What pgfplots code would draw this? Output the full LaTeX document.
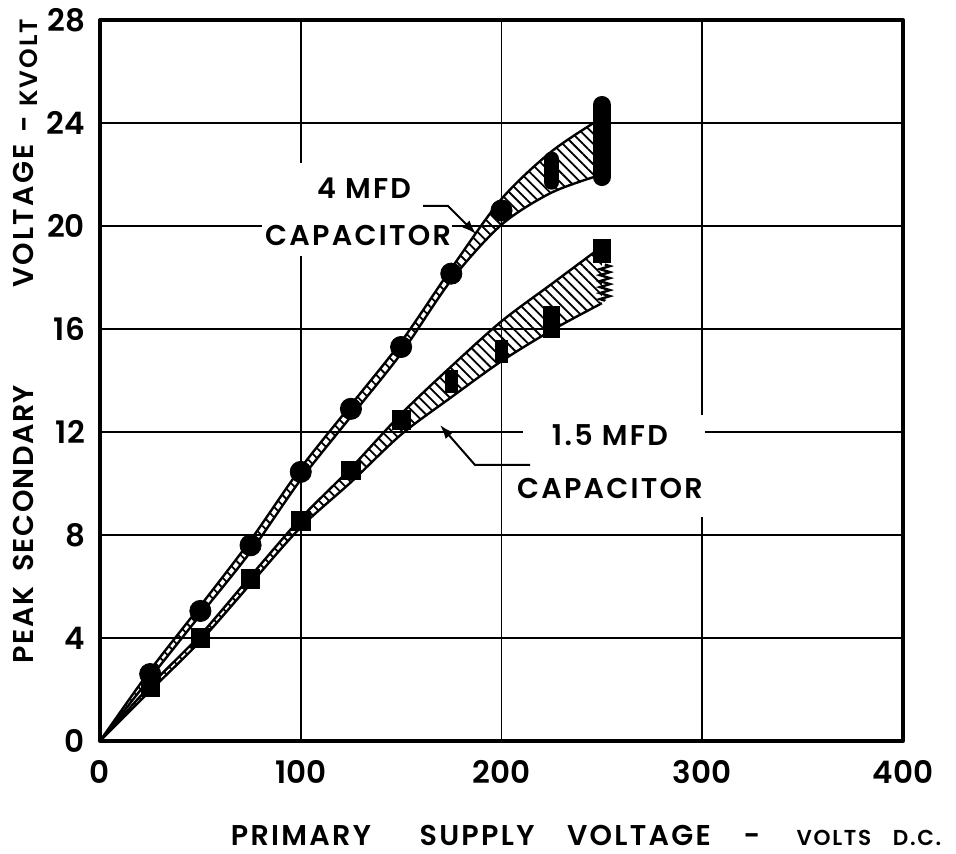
\documentclass[border=0pt]{standalone}
\usepackage{fontspec}
\setmainfont{Poppins}
\newfontfamily\lett{Poppins SemiBold}[LetterSpace=8]
\newfontfamily\lettn{Poppins SemiBold}[LetterSpace=5]
\newfontfamily\lettnum{Poppins SemiBold}
\usepackage{pgfplots}
\pgfplotsset{compat=1.18}
\usepgfplotslibrary{fillbetween}
\usetikzlibrary{calc,patterns.meta,arrows.meta,decorations.pathmorphing}

\newcommand{\lab}{\lett\fontsize{14.3}{15}\selectfont}
\newcommand{\labn}{\lettn\fontsize{14.3}{15}\selectfont}
\newcommand{\labsm}{\lett\fontsize{10.8}{12}\selectfont}

\begin{document}
\begin{tikzpicture}
\begin{axis}[
  set layers,
  scale only axis, width=401.5pt, height=360.5pt,
  xmin=0, xmax=400, ymin=0, ymax=28,
  xtick={0,100,200,300,400}, ytick={0,4,...,28},
  major tick length=0pt,
  grid=major,
  major grid style={black, line width=0.9pt},
  axis line style={line width=2pt, line join=round},
  clip=false,
  /pgf/number format/assume math mode=true,
  ticklabel style={font=\lettnum\fontsize{15.5}{16}\selectfont},
  xticklabel style={yshift=-6pt},
  yticklabel style={xshift=-4pt},
]
% blank the grid behind the curve labels
\fill[white] (axis cs:80.7,18.83) rectangle (axis cs:175.3,22.45);
\fill[white] (axis cs:210.7,8.70) rectangle (axis cs:301.5,12.66);

% 4 MFD capacitor: spread of readings
\addplot[name path=u4, smooth, line width=1.2pt] coordinates {
  (0,0) (25,2.75) (50,5.25) (75,7.8) (100,10.6) (125,13.05) (150,15.5)
  (175,18.35) (200,21.05) (225,22.9) (250,24.2)};
\addplot[name path=l4, smooth, line width=1.2pt] coordinates {
  (0,0) (25,2.45) (50,4.9) (75,7.35) (100,10.15) (125,12.6) (150,15.05)
  (175,17.9) (200,20.05) (225,21.3) (250,22.0)};
\addplot[draw=none, pattern={Lines[angle=-45,distance=3.6pt,line width=0.9pt]}]
  fill between[of=u4 and l4];

% 1.5 MFD capacitor: spread of readings
\addplot[name path=u15, smooth, line width=1.2pt] coordinates {
  (0,0) (25,2.15) (50,4.12) (75,6.4) (100,8.65) (125,10.6) (150,12.7)
  (175,14.55) (200,16.3) (225,17.75) (250,19.2)};
\addplot[name path=l15, smooth, line width=1.2pt] coordinates {
  (0,0) (25,1.95) (50,3.88) (75,6.1) (100,8.3) (125,10.05) (150,11.9)
  (175,13.35) (200,14.75) (225,15.95) (250,17.0)};
\addplot[draw=none, pattern={Lines[angle=-45,distance=3.6pt,line width=0.9pt]}]
  fill between[of=u15 and l15];

% measured points, 4 MFD
\addplot[only marks, mark=*, mark size=5.3pt, black] coordinates {
  (25,2.6) (50,5.05) (75,7.6) (100,10.45) (125,12.9) (150,15.3) (175,18.15) (200,20.6)};
\addplot[line width=7.5pt, line cap=round] coordinates {(225,21.7) (225,22.6)};
\addplot[line width=9pt, line cap=round] coordinates {(250,21.9) (250,24.7)};

% measured points, 1.5 MFD
\addplot[only marks, mark=square*, mark size=4.6pt, black] coordinates {
  (25,2.1) (50,4.0) (75,6.3) (100,8.55) (125,10.52) (150,12.47)};
\addplot[line width=6.8pt, line cap=butt] coordinates {(175,13.5) (175,14.4)};
\addplot[line width=6.8pt, line cap=butt] coordinates {(200,14.67) (200,15.57)};
\addplot[line width=8.5pt, line cap=butt] coordinates {(225,15.66) (225,16.9)};
\addplot[line width=9pt, line cap=butt] coordinates {(250,18.56) (250,19.5)};
\addplot[line width=1.2pt, decorate, decoration={zigzag, segment length=3pt, amplitude=2.5pt}]
  coordinates {(251.5,18.5) (251.5,17.1)};

% curve labels and leaders
\node[font=\lab] at (axis cs:131.5,21.48) {4 MFD};
\node[font=\lab] at (axis cs:128.5,19.65) {CAPACITOR};
\draw[line width=1pt, -{Latex[length=7pt,width=5pt]}]
  (axis cs:160.9,20.78) -- (axis cs:173.3,20.78) -- (axis cs:187.3,19.69);
\node[font=\lab] at (axis cs:254,11.88) {1.5 MFD};
\node[font=\lab] at (axis cs:254,9.79) {CAPACITOR};
\draw[line width=1pt, -{Latex[length=7pt,width=5pt]}]
  (axis cs:214.2,10.72) -- (axis cs:186.8,10.72) -- (axis cs:169.4,12.27);

% axis titles
\node[font=\lab, anchor=base] at (axis cs:100.1,-4.04) {PRIMARY};
\node[font=\lab, anchor=base] at (axis cs:187.8,-4.04) {SUPPLY};
\node[font=\lab, anchor=base] at (axis cs:268.5,-4.04) {VOLTAGE};
\node[font=\lab, anchor=base] at (axis cs:324.8,-4.04) {-};
\node[font=\labsm, anchor=base] at (axis cs:365.6,-4.04) {VOLTS};
\node[font=\labsm, anchor=base] at (axis cs:407.0,-4.04) {D.C.};

\node[font=\labn, anchor=base, rotate=90] at (axis cs:-32.9,4.5) {PEAK};
\node[font=\labn, anchor=base, rotate=90] at (axis cs:-32.9,10.2) {SECONDARY};
\node[font=\lab, anchor=base, rotate=90] at (axis cs:-32.9,20.39) {VOLTAGE};
\node[font=\lab, anchor=base, rotate=90] at (axis cs:-32.4,23.96) {-};
\node[font=\lett\fontsize{12.5}{13}\selectfont, anchor=base, rotate=90] at (axis cs:-30.9,26.33) {KVOLT};

\coordinate (O) at (axis cs:0,0);
\end{axis}
\pgfresetboundingbox
\path[use as bounding box] ($(O)+(-50pt,-56.5pt)$) rectangle ($(O)+(428pt,370.5pt)$);
\end{tikzpicture}
\end{document}
